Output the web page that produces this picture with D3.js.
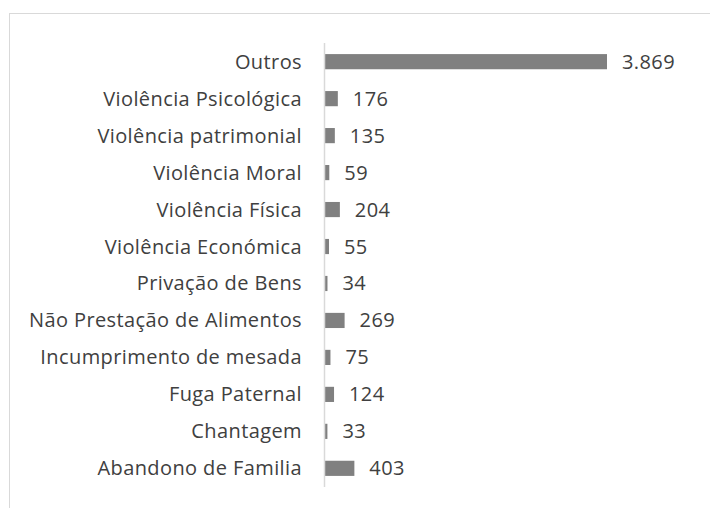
<!DOCTYPE html>
<html>
<head>
<meta charset="utf-8">
<script src="https://cdn.jsdelivr.net/npm/d3@7"></script>
<style>
  body { margin: 0; background: #fff; }
  text { font-family: "Open Sans", sans-serif; }
</style>
</head>
<body>
<div id="chart"></div>
<script>
// categorias, de cima para baixo
var categories = ["Outros", "Violência Psicológica", "Violência patrimonial", "Violência Moral",
  "Violência Física", "Violência Económica", "Privação de Bens", "Não Prestação de Alimentos",
  "Incumprimento de mesada", "Fuga Paternal", "Chantagem", "Abandono de Familia"];
var values = [3869, 176, 135, 59, 204, 55, 34, 269, 75, 124, 33, 403];
var valueLabels = ["3.869", "176", "135", "59", "204", "55", "34", "269", "75", "124", "33", "403"];

var width = 710,
    height = 508,
    axisX = 324.5,
    plotTop = 43,
    plotBottom = 487;

var svg = d3.select("#chart")
  .append("svg")
  .attr("width", width)
  .attr("height", height);

// borda do grafico
svg.append("rect")
  .attr("x", 9.5)
  .attr("y", 13.5)
  .attr("width", 720)
  .attr("height", 520)
  .style("fill", "none")
  .style("stroke", "#d9d9d9")
  .style("stroke-width", "1px");

var x = d3.scaleLinear()
  .domain([0, 3869])
  .range([axisX + 0.5, 607]);

var y = d3.scaleBand()
  .domain(categories)
  .range([plotTop, plotBottom])
  .paddingInner(0.59)
  .paddingOuter(0.3);

var data = categories.map(function (c, i) { return { cat: c, value: values[i], label: valueLabels[i] }; });

svg.selectAll("rect.bar")
  .data(data)
  .enter()
  .append("rect")
  .attr("class", "bar")
  .attr("x", x(0))
  .attr("y", function (d) { return y(d.cat); })
  .attr("width", function (d) { return x(d.value) - x(0); })
  .attr("height", y.bandwidth())
  .style("fill", "#808080");

// eixo vertical
svg.append("line")
  .attr("x1", axisX)
  .attr("x2", axisX)
  .attr("y1", plotTop)
  .attr("y2", plotBottom)
  .style("stroke", "#d9d9d9")
  .style("stroke-width", "1.5px");

svg.selectAll("text.cat")
  .data(data)
  .enter()
  .append("text")
  .attr("class", "cat")
  .attr("x", 302)
  .attr("y", function (d) { return y(d.cat) + y.bandwidth() / 2; })
  .attr("dy", "0.35em")
  .attr("text-anchor", "end")
  .style("font-size", "20px")
  .style("letter-spacing", "0.4px")
  .style("fill", "#404040")
  .text(function (d) { return d.cat; });

svg.selectAll("text.val")
  .data(data)
  .enter()
  .append("text")
  .attr("class", "val")
  .attr("x", function (d) { return x(d.value) + 15; })
  .attr("y", function (d) { return y(d.cat) + y.bandwidth() / 2; })
  .attr("dy", "0.35em")
  .style("font-size", "20px")
  .style("letter-spacing", "0.4px")
  .style("fill", "#404040")
  .text(function (d) { return d.label; });
</script>
</body>
</html>
